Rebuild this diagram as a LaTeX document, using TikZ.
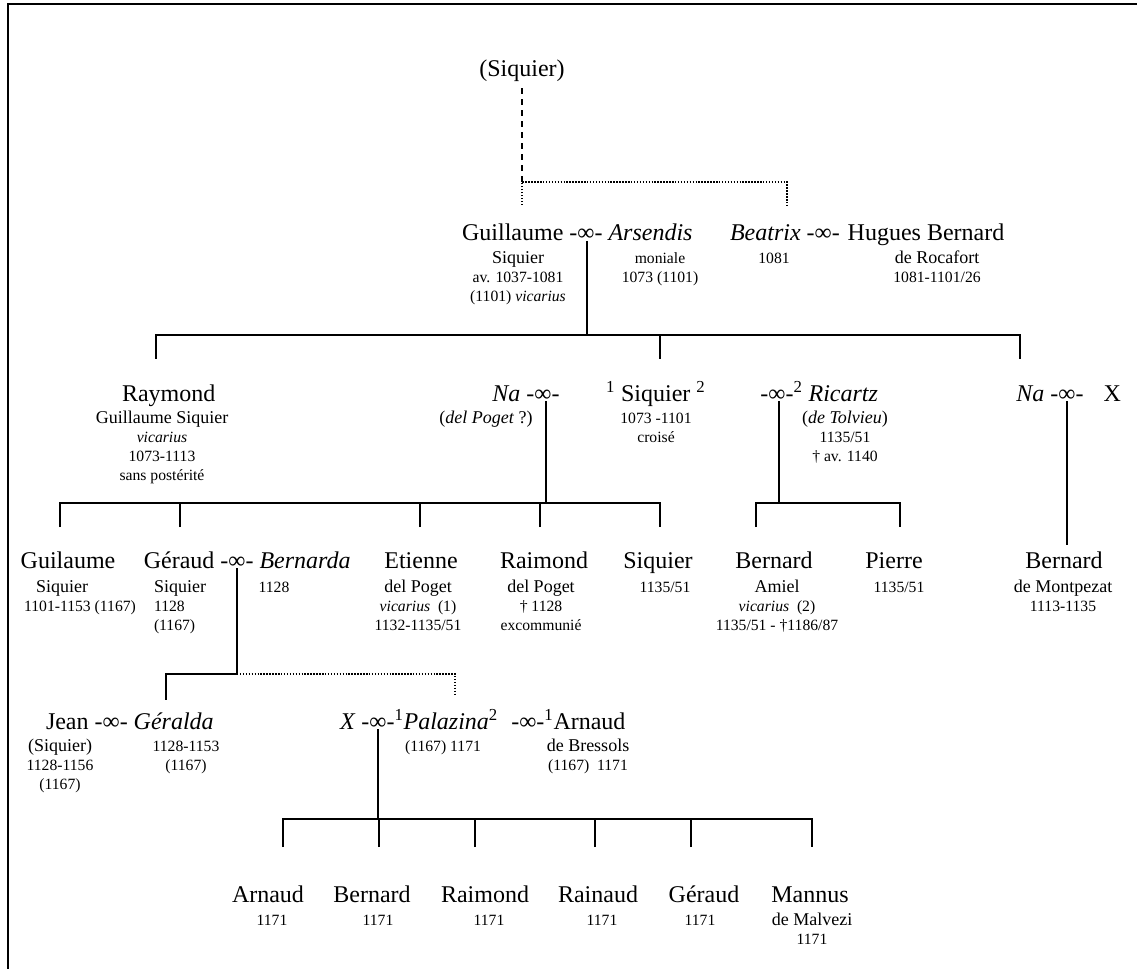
\documentclass[tikz,border=0pt]{standalone}
\usepackage{fontspec}
\setmainfont{Liberation Serif}
\newcommand{\wed}{-∞-}
% stacked lines; the baseline of the stack is that of its first line
\newcommand{\stk}[1]{\vtop{\let\\\cr\baselineskip=14.25pt\lineskiplimit=-20pt\lineskip=0pt
  \halign{\hfil##\hfil\cr#1\crcr}}}
\newcommand{\stkl}[1]{\vtop{\let\\\cr\baselineskip=14.25pt\lineskiplimit=-20pt\lineskip=0pt
  \halign{##\hfil\cr#1\crcr}}}
% surname lines are set a little larger than the dates
\newcommand{\surn}[1]{{\fontsize{13.5}{14.25}\selectfont #1}}
\begin{document}
\begin{tikzpicture}[x=0.75pt,y=-0.75pt,
  every node/.style={inner sep=0pt,outer sep=0pt},
  nm/.style={font=\fontsize{18}{21}\selectfont},
  nmC/.style={nm,anchor=base},
  nmL/.style={nm,anchor=base west},
  nmR/.style={nm,anchor=base east},
  sub/.style={font=\fontsize{11.75}{14.25}\selectfont,anchor=base},
  subL/.style={font=\fontsize{11.75}{14.25}\selectfont,anchor=base west},
  tree/.style={line width=1.5pt},
  dotline/.style={line width=1.2pt,dash pattern=on 1.1pt off 1.1pt},
  dashline/.style={line width=1.5pt,dash pattern=on 4.5pt off 3.75pt},
  frame/.style={line width=1.7pt}]
\useasboundingbox (0,0) rectangle (1137,969);
\draw[frame] (1140,4.2) -- (7.8,4.2) -- (7.8,972);

% ---- ancestor
\node[nmC] (top) at (522,77) {(Siquier)};
\coordinate (split) at (522,182);
\coordinate (dl) at (522,205);
\coordinate (dr) at (787,205);
\draw[dashline] ([yshift=-4.5pt]top.south) -- (split);
\draw[dotline] (dl) -- (dl |- split) -- (dr |- split) -- (dr);

% ---- generation 1
\node[nmC] (m1) at (586,241) {\wed};
\node[nmR] (guil) at ([xshift=-4.5pt]m1.base west) {Guillaume};
\node[nmL] (ars) at ([xshift=4.5pt]m1.base east) {\textit{Arsendis}};
\node[nmL] (bea) at (730,241) {\textit{Beatrix}};
\node[nmL] (m2) at ([xshift=4.5pt]bea.base east) {\wed};
\node[nmL] (hug) at ([xshift=6pt]m2.base east) {Hugues Bernard};
\node[sub] (guil-s) at (518,264) {\stk{\surn{Siquier}\\av. 1037-1081\\(1101) \textit{vicarius}}};
\node[sub] (ars-s) at (660,264) {\stk{moniale\\1073 (1101)}};
\node[sub] (bea-s) at (774,264) {1081};
\node[sub] (hug-s) at (937,264) {\stk{\surn{de Rocafort}\\1081-1101/26}};

\coordinate (f1) at (587,335);
\coordinate (d1a) at (156,359);
\coordinate (d1b) at (660,359);
\coordinate (d1c) at (1020,359);
\draw[tree] (m1.south -| f1) -- (f1);
\draw[tree] (d1a) -- (d1a |- f1) -- (d1c |- f1) -- (d1c);
\draw[tree] (d1b) -- (d1b |- f1);

% ---- generation 2
\node[nmL] (ray) at (122,401) {Raymond};
\node[nmC] (m3) at (543,401) {\wed};
\node[nmR] (na1) at ([xshift=-4.5pt]m3.base west) {\textit{Na}};
\node[nmL] (siq1) at (606,401) {\textsuperscript{1} Siquier \textsuperscript{2}};
\node[nmC] (m4) at (777,401) {\wed};
\node[nmL] (ric) at (m4.base east) {\textsuperscript{2} \textit{Ricartz}};
\node[nmC] (m5) at (1067,401) {\wed};
\node[nmR] (na2) at ([xshift=-4.5pt]m5.base west) {\textit{Na}};
\node[nmL] (x1) at ([xshift=15pt]m5.base east) {X};
\node[sub] (ray-s) at (162,423) {\stk{\surn{Guillaume Siquier}\\\textit{vicarius}\\1073-1113\\sans postérité}};
\node[sub] (na1-s) at (486,423) {\surn{(\textit{del Poget} ?)}};
\node[sub] (siq1-s) at (656,423) {\stk{1073 -1101\\croisé}};
\node[sub] (ric-s) at (845,423) {\stk{\surn{(\textit{de Tolvieu})}\\1135/51\\† av. 1140}};

\coordinate (f3) at (546,503);
\coordinate (d3a) at (60,527);
\coordinate (d3b) at (180,527);
\coordinate (d3c) at (420,527);
\coordinate (d3d) at (540,527);
\coordinate (d3e) at (660,527);
\draw[tree] (m3.south -| f3) -- (f3);
\draw[tree] (d3a) -- (d3a |- f3) -- (d3e |- f3) -- (d3e);
\foreach \d in {d3b,d3c,d3d} \draw[tree] (\d) -- (\d |- f3);

\coordinate (f4) at (779,503);
\coordinate (d4a) at (756,527);
\coordinate (d4b) at (900,527);
\draw[tree] (m4.south -| f4) -- (f4);
\draw[tree] (d4a) -- (d4a |- f4) -- (d4b |- f4) -- (d4b);

\coordinate (d5) at (1067,545);
\draw[tree] (m5.south) -- (d5);

% ---- generation 3
\node[nmC] (guil2) at (68,568) {Guilaume};
\node[nmC] (m6) at (237,568) {\wed};
\node[nmR] (ger) at ([xshift=-4.5pt]m6.base west) {Géraud};
\node[nmL] (bern) at ([xshift=4.5pt]m6.base east) {\textit{Bernarda}};
\node[nmC] (eti) at (421,568) {Etienne};
\node[nmC] (raim) at (544,568) {Raimond};
\node[nmC] (siq2) at (658,568) {Siquier};
\node[nmC] (bam) at (774,568) {Bernard};
\node[nmC] (pie) at (894,568) {Pierre};
\node[nmC] (bmo) at (1064,568) {Bernard};
\node[sub] (guil2-s1) at (62,592) {\surn{Siquier}};
\node[sub] (guil2-s2) at (80,611) {1101-1153 (1167)};
\node[subL] (ger-s) at (154,592) {\stkl{\surn{Siquier}\\1128\\(1167)}};
\node[sub] (bern-s) at (274,592) {1128};
\node[sub] (eti-s) at (418,592) {\stk{\surn{del Poget}\\\textit{vicarius}~ (1)\\1132-1135/51}};
\node[sub] (raim-s) at (541,592) {\stk{\surn{del Poget}\\† 1128\\excommunié}};
\node[sub] (siq2-s) at (665,592) {1135/51};
\node[sub] (bam-s) at (777,592) {\stk{\surn{Amiel}\\\textit{vicarius}~ (2)\\1135/51 - †1186/87}};
\node[sub] (pie-s) at (899,592) {1135/51};
\node[sub] (bmo-s) at (1063,592) {\stk{\surn{de Montpezat}\\1113-1135}};

\coordinate (f6) at (237,674);
\coordinate (d6a) at (166,700);
\coordinate (d6b) at (455,696);
\draw[tree] (m6.south) -- (f6) -| (d6a);
\draw[dotline] (f6) -- (d6b |- f6) -- (d6b);

% ---- generation 4
\node[nmL] (jean) at (46,729) {Jean};
\node[nmL] (m7) at ([xshift=4.5pt]jean.base east) {\wed};
\node[nmL] (gera) at ([xshift=4.5pt]m7.base east) {\textit{Géralda}};
\node[nmC] (m8) at (378,729) {\wed};
\node[nmR] (x2) at ([xshift=-4.5pt]m8.base west) {\textit{X}};
\node[nmL] (pal) at (m8.base east) {\textsuperscript{1}\textit{Palazina}\textsuperscript{2}};
\node[nmL] (m9) at ([xshift=10pt]pal.base east) {\wed};
\node[nmL] (arn) at (m9.base east) {\textsuperscript{1}Arnaud};
\node[sub] (jean-s) at (60,751) {\stk{\surn{(Siquier)}\\1128-1156\\(1167)}};
\node[sub] (gera-s) at (186,751) {\stk{1128-1153\\(1167)}};
\node[sub] (pal-s) at (443,751) {(1167) 1171};
\node[sub] (arn-s) at (588,751) {\stk{\surn{de Bressols}\\(1167)~ 1171}};

\coordinate (f8) at (378,819);
\coordinate (d8a) at (283,847);
\coordinate (d8b) at (379,847);
\coordinate (d8c) at (475,847);
\coordinate (d8d) at (595,847);
\coordinate (d8e) at (691,847);
\coordinate (d8f) at (812,847);
\draw[tree] (m8.south) -- (f8);
\draw[tree] (d8a) -- (d8a |- f8) -- (d8f |- f8) -- (d8f);
\foreach \d in {d8b,d8c,d8d,d8e} \draw[tree] (\d) -- (\d |- f8);

% ---- generation 5
\node[nmC] (c1) at (268,902) {Arnaud};
\node[nmC] (c2) at (372,902) {Bernard};
\node[nmC] (c3) at (485,902) {Raimond};
\node[nmC] (c4) at (598,902) {Rainaud};
\node[nmC] (c5) at (704,902) {Géraud};
\node[nmC] (c6) at (810,902) {Mannus};
\node[sub] (c1-s) at (272,925) {1171};
\node[sub] (c2-s) at (378,925) {1171};
\node[sub] (c3-s) at (489,925) {1171};
\node[sub] (c4-s) at (602,925) {1171};
\node[sub] (c5-s) at (700,925) {1171};
\node[sub] (c6-s) at (812,925) {\stk{\surn{de Malvezi}\\1171}};
\end{tikzpicture}
\end{document}
